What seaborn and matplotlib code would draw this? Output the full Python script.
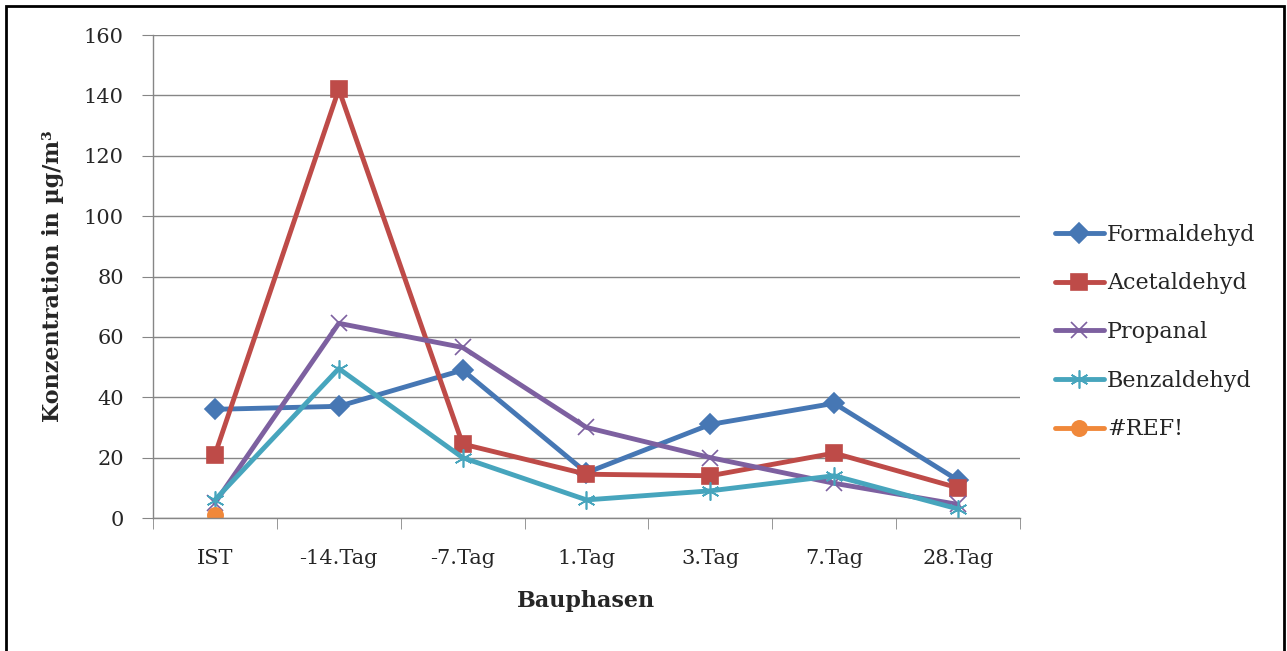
import pandas as pd
import seaborn as sns
from matplotlib import pyplot as plt
from matplotlib.patches import Rectangle
from matplotlib.ticker import FixedLocator

sns.set_style("white")
plt.rcParams["font.family"] = ["DejaVu Serif"]

phasen = ["IST", "-14.Tag", "-7.Tag", "1.Tag", "3.Tag", "7.Tag", "28.Tag"]
formaldehyd = [36, 37, 49, 15, 31, 38, 12.5]
acetaldehyd = [21, 142, 24.5, 14.5, 14, 21.5, 10]
propanal = [5, 64.5, 56.5, 30, 20, 11.5, 4.5]
benzaldehyd = [6, 49.5, 20, 6, 9, 14, 3]
ref_phasen = ["IST"]
ref_werte = [1]

reihen = ["Formaldehyd", "Acetaldehyd", "Propanal", "Benzaldehyd", "#REF!"]
farben = {"Formaldehyd": "#4677B4", "Acetaldehyd": "#BE4B48", "Propanal": "#7D60A0",
          "Benzaldehyd": "#47A5BD", "#REF!": "#F0883A"}
marker = {"Formaldehyd": "D", "Acetaldehyd": "s", "Propanal": "x",
          "Benzaldehyd": (6, 2, 0), "#REF!": "o"}
msize = {"Formaldehyd": 10, "Acetaldehyd": 11, "Propanal": 11,
         "Benzaldehyd": 13, "#REF!": 11}

rows = []
for name, werte in zip(reihen[:4], [formaldehyd, acetaldehyd, propanal, benzaldehyd]):
    for p, w in zip(phasen, werte):
        rows.append({"Phase": p, "Wert": w, "Stoff": name})
for p, w in zip(ref_phasen, ref_werte):
    rows.append({"Phase": p, "Wert": w, "Stoff": "#REF!"})
d = pd.DataFrame(rows)
d["Phase"] = pd.Categorical(d["Phase"], categories=phasen, ordered=True)
d["pos"] = d["Phase"].cat.codes

fig = plt.figure(figsize=(12.87, 6.51), dpi=100)
ax = fig.add_axes([0.1189, 0.2043, 0.6736, 0.7419])

for name in reihen:
    sub = d[d["Stoff"] == name]
    sns.lineplot(data=sub, x="pos", y="Wert", color=farben[name], marker=marker[name],
                 markersize=msize[name], markeredgewidth=1.2, markeredgecolor=farben[name],
                 linewidth=3.5, label=name, ax=ax)

ax.set_xlim(-0.5, 6.5)
ax.set_ylim(0, 160)
ax.set_yticks(range(0, 161, 20))
ax.set_xticks(range(len(phasen)))
ax.set_xticklabels(phasen)
ax.xaxis.set_minor_locator(FixedLocator([i + 0.5 for i in range(-1, 7)]))
ax.tick_params(axis="x", which="major", length=0, pad=22, labelsize=15)
ax.tick_params(axis="x", which="minor", length=8, color="#868686", direction="out", bottom=True)
ax.tick_params(axis="y", length=8, color="#868686", direction="out", left=True, pad=13, labelsize=15)
ax.grid(axis="y", color="#868686", linewidth=1)
ax.set_axisbelow(True)
for s in ["top", "right"]:
    ax.spines[s].set_visible(False)
for s in ["left", "bottom"]:
    ax.spines[s].set_color("#868686")
    ax.spines[s].set_linewidth(1)

ax.set_xlabel("Bauphasen", fontsize=16, fontweight="bold", labelpad=16)
ax.set_ylabel("Konzentration in µg/m³", fontsize=16, fontweight="bold", labelpad=14)

leg = ax.legend(loc="center left", bbox_to_anchor=(1.03, 0.385), frameon=False, fontsize=16,
                handlelength=2.2, handletextpad=0.15, labelspacing=1.2, borderaxespad=0)

fig.patches.append(Rectangle((0.005, -0.02), 0.993, 1.011, transform=fig.transFigure,
                             fill=False, edgecolor="black", linewidth=2))

plt.savefig("out.png", dpi=100)
